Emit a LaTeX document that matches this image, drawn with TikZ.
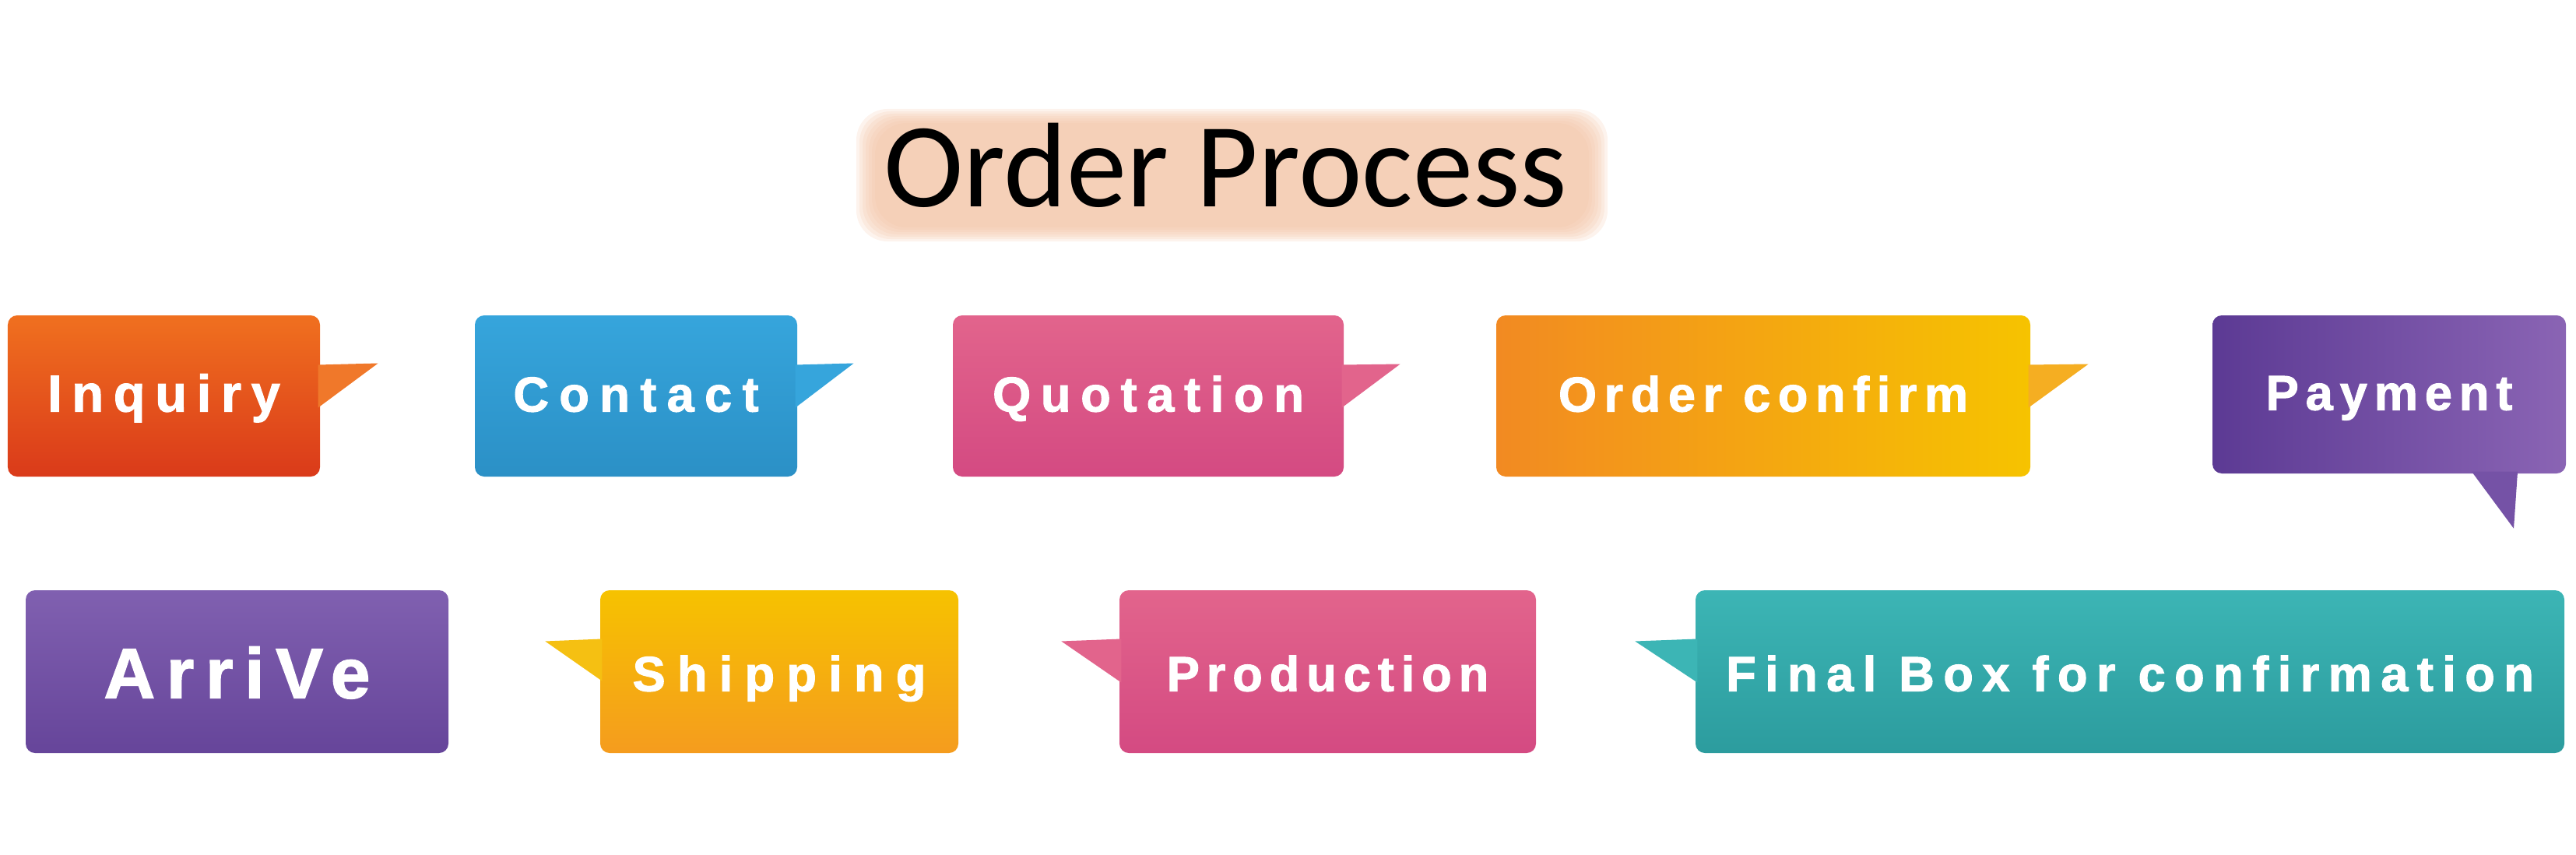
\documentclass[tikz,border=0pt]{standalone}
\usepackage{fontspec}
\setmainfont{Carlito}
\newfontfamily\boxfont{Liberation Sans}[FakeBold=1.6]

\definecolor{peachA}{HTML}{F3C4A6}
\definecolor{inqA}{HTML}{F0701F}
\definecolor{inqB}{HTML}{DA3A1A}
\definecolor{inqT}{HTML}{F0782A}
\definecolor{conA}{HTML}{36A5DC}
\definecolor{conB}{HTML}{2B90C6}
\definecolor{quoA}{HTML}{E2648C}
\definecolor{quoB}{HTML}{D44A82}
\definecolor{ordA}{HTML}{F28A22}
\definecolor{ordB}{HTML}{F6C300}
\definecolor{ordT}{HTML}{F5AE22}
\definecolor{payA}{HTML}{5C3A94}
\definecolor{payB}{HTML}{8A64B4}
\definecolor{payT}{HTML}{7552A6}
\definecolor{arrA}{HTML}{8060B0}
\definecolor{arrB}{HTML}{66459A}
\definecolor{shpA}{HTML}{F6C200}
\definecolor{shpB}{HTML}{F59C1E}
\definecolor{shpT}{HTML}{F5C012}
\definecolor{finA}{HTML}{3CB5B5}
\definecolor{finB}{HTML}{2C9C9E}

\tikzset{
  bubble/.style={rectangle, rounded corners=1.2mm, inner sep=0pt, text=white,
    text height=0.5cm, text depth=0.1cm},
  lbl/.style 2 args={font={\boxfont\bfseries\fontsize{#1}{#1}\selectfont\addfontfeature{LetterSpace=#2}}}
}

\begin{document}
\begin{tikzpicture}
  \useasboundingbox (0,0) rectangle (33.09,-10.97);

  % Titolo
  \foreach \i in {0,...,6}
    \fill[peachA, opacity=0.2, rounded corners=4mm]
      (11.0+0.04*\i,-1.40-0.03*\i) rectangle (20.65-0.04*\i,-3.10+0.03*\i);
  \node (title) at (15.74,-2.65) [anchor=base, font=\fontsize{44}{50}\selectfont] {Order Process};

  % Riga superiore
  \node (inq) at (2.105,-5.085) [bubble, minimum width=4.01cm, minimum height=2.07cm,
    top color=inqA, bottom color=inqB, lbl={19}{19}] {Inquiry};
  \node (con) at (8.17,-5.085) [bubble, minimum width=4.14cm, minimum height=2.07cm,
    top color=conA, bottom color=conB, lbl={18}{21}] {Contact};
  \node (quo) at (14.75,-5.085) [bubble, minimum width=5.02cm, minimum height=2.07cm,
    top color=quoA, bottom color=quoB, lbl={18}{20}] {Quotation};
  \node (ord) at (22.65,-5.085) [bubble, minimum width=6.86cm, minimum height=2.07cm,
    left color=ordA, right color=ordB, lbl={18}{15}] {Order confirm};
  \node (pay) at (30.69,-5.065) [bubble, minimum width=4.54cm, minimum height=2.03cm,
    left color=payA, right color=payB, lbl={18}{14}] {Payment};

  % Riga inferiore
  \node (arr) at (3.045,-8.625) [bubble, minimum width=5.43cm, minimum height=2.09cm,
    top color=arrA, bottom color=arrB, lbl={26}{16},
    text height=0.68cm, text depth=0cm] {ArriVe};
  \node (shp) at (10.01,-8.625) [bubble, minimum width=4.60cm, minimum height=2.09cm,
    top color=shpA, bottom color=shpB, lbl={18}{24}, text height=0.55cm, text depth=0.05cm] {Shipping};
  \node (prod) at (17.055,-8.625) [bubble, minimum width=5.35cm, minimum height=2.09cm,
    top color=quoA, bottom color=quoB, lbl={18}{14}, text height=0.55cm, text depth=0.05cm] {Production};
  \node (fin) at (27.36,-8.625) [bubble, minimum width=11.16cm, minimum height=2.09cm,
    top color=finA, bottom color=finB, lbl={18}{18}, text height=0.55cm, text depth=0.05cm] {Final Box for confirmation};

  % Code dei fumetti
  \fill[inqT] ([shift={(-0.03,0.40)}]inq.east) -- ++(0.77,0.02) -- ([shift={(-0.03,-0.15)}]inq.east) -- cycle;
  \fill[conA] ([shift={(-0.03,0.40)}]con.east) -- ++(0.75,0.02) -- ([shift={(-0.03,-0.15)}]con.east) -- cycle;
  \fill[quoA] ([shift={(-0.03,0.40)}]quo.east) -- ++(0.75,0.01) -- ([shift={(-0.03,-0.15)}]quo.east) -- cycle;
  \fill[ordT] ([shift={(-0.03,0.40)}]ord.east) -- ++(0.77,0.01) -- ([shift={(-0.03,-0.15)}]ord.east) -- cycle;
  \fill[payT] ([shift={(1.06,0.03)}]pay.south) -- ([shift={(1.60,-0.70)}]pay.south) -- ([shift={(1.65,0.03)}]pay.south) -- cycle;
  \fill[shpT] ([shift={(0.03,0.42)}]shp.west) -- ++(-0.73,-0.03) -- ([shift={(0.03,-0.12)}]shp.west) -- cycle;
  \fill[quoA] ([shift={(0.03,0.42)}]prod.west) -- ++(-0.77,-0.03) -- ([shift={(0.03,-0.14)}]prod.west) -- cycle;
  \fill[finA] ([shift={(0.03,0.42)}]fin.west) -- ++(-0.80,-0.03) -- ([shift={(0.03,-0.14)}]fin.west) -- cycle;
\end{tikzpicture}
\end{document}
